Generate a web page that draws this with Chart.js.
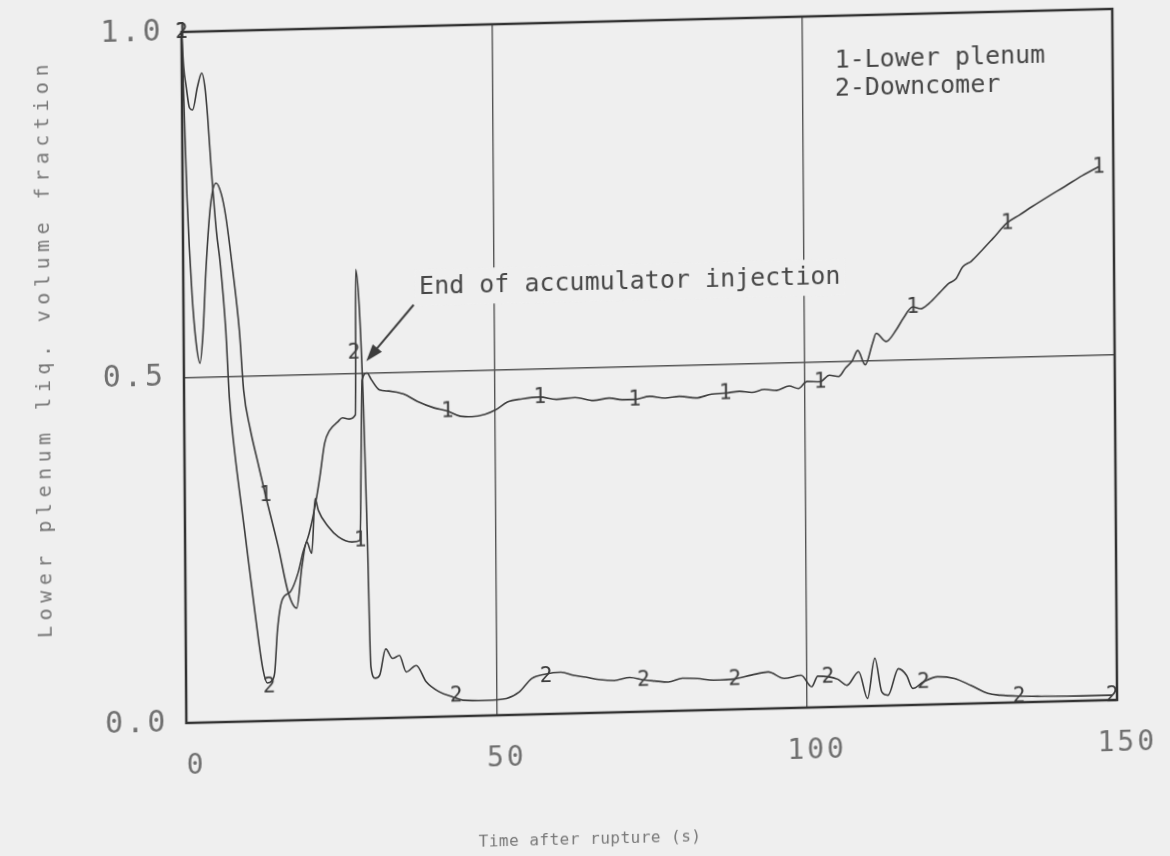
<!DOCTYPE html>
<html>
<head>
<meta charset="utf-8">
<script src="https://cdn.jsdelivr.net/npm/chart.js@4.4.1/dist/chart.umd.min.js"></script>
<style>
    html, body { margin: 0; padding: 0; background: #efefef; overflow: hidden; }
    #wrap { width: 1170px; height: 856px; overflow: hidden; }
    /* the scanned sheet is fed a little askew */
    #box { width: 1170px; height: 880px; transform-origin: 184px 378px; transform: skew(0.4deg, -1.42deg); }
</style>
</head>
<body>
<div id="wrap"><div id="box"><canvas id="chart"></canvas></div></div>
<script>
var xTicks = [0, 50, 100, 150];
var yTicks = [0, 0.5, 1.0];

// 1 - Lower plenum
var lpTime = [0, 0.3, 0.7, 1.4, 2.0, 2.6, 3.1, 3.7, 4.5, 5.4,
    6.2, 6.9, 7.9, 9.0, 9.6, 10.6, 11.8, 13.0, 15.0, 16.6,
    17.9, 18.8, 19.6, 20.4, 21.0, 21.5, 23.1, 24.7, 26.9, 28.2,
    28.5, 28.7, 29.5, 30.2, 31.5, 33.0, 35.4, 37.6, 40.3, 42.4,
    44.5, 46.4, 48.5, 50.2, 52.1, 54.5, 57.3, 60.0, 63.0, 66.0,
    68.5, 70.6, 72.6, 75.0, 77.5, 79.8, 82.5, 85.0, 87.2, 89.5,
    91.5, 93.5, 95.5, 97.5, 99.0, 100.4, 102.5, 104.0, 105.5, 106.6,
    107.7, 108.6, 109.8, 111.0, 111.6, 113.2, 114.8, 116.0, 117.5, 118.8,
    120.2, 121.8, 123.4, 124.5, 125.6, 127.0, 128.8, 130.5, 132.8, 134.8,
    136.9, 139.5, 142.2, 145.0, 147.6];
var lpFrac = [1.0, 0.90, 0.76, 0.62, 0.55, 0.52, 0.56, 0.66, 0.75, 0.78,
    0.765, 0.733, 0.66, 0.564, 0.480, 0.424, 0.375, 0.327, 0.252, 0.184,
    0.162, 0.222, 0.258, 0.241, 0.320, 0.303, 0.279, 0.264, 0.256, 0.258,
    0.40, 0.49, 0.50, 0.49, 0.475, 0.473, 0.468, 0.457, 0.447, 0.442,
    0.434, 0.433, 0.436, 0.442, 0.453, 0.457, 0.459, 0.455, 0.457, 0.452,
    0.455, 0.452, 0.452, 0.456, 0.453, 0.455, 0.452, 0.457, 0.458, 0.460,
    0.458, 0.462, 0.460, 0.466, 0.462, 0.472, 0.471, 0.480, 0.478, 0.490,
    0.500, 0.515, 0.494, 0.525, 0.539, 0.527, 0.543, 0.560, 0.576, 0.573,
    0.581, 0.595, 0.609, 0.615, 0.632, 0.640, 0.656, 0.672, 0.694, 0.705,
    0.717, 0.731, 0.745, 0.760, 0.772];

// 2 - Downcomer
var dcTime = [0, 0.3, 0.7, 1.2, 1.7, 2.5, 3.2, 3.7, 4.1, 4.6,
    5.4, 6.0, 6.8, 7.3, 8.0, 9.6, 11.2, 12.4, 13.1, 13.8,
    14.3, 14.8, 15.6, 16.9, 18.2, 19.0, 20.0, 21.1, 21.8, 22.6,
    23.4, 24.7, 25.5, 26.6, 27.6, 27.8, 28.3, 28.9, 29.4, 29.8,
    30.5, 31.2, 32.2, 33.3, 34.4, 35.5, 37.1, 38.7, 40.8, 43.0,
    44.6, 48.3, 51.6, 53.7, 55.7, 58.0, 60.4, 62.5, 64.4, 66.5,
    69.0, 71.5, 73.7, 75.5, 77.7, 80.0, 82.4, 85.0, 88.4, 91.1,
    93.8, 96.4, 99.1, 100.8, 101.8, 103.4, 105.0, 106.5, 108.4, 109.8,
    111.0, 112.1, 113.1, 114.8, 116.1, 117.1, 118.8, 121.1, 123.8, 126.5,
    129.2, 131.2, 134.2, 137.8, 144.5, 149.2];
var dcFrac = [1.0, 0.95, 0.92, 0.89, 0.887, 0.92, 0.94, 0.92, 0.878, 0.806,
    0.71, 0.662, 0.566, 0.469, 0.398, 0.277, 0.156, 0.075, 0.055, 0.058,
    0.07, 0.132, 0.175, 0.186, 0.214, 0.243, 0.27, 0.315, 0.352, 0.400,
    0.418, 0.430, 0.436, 0.434, 0.440, 0.65, 0.60, 0.45, 0.25, 0.075,
    0.058, 0.062, 0.100, 0.086, 0.090, 0.066, 0.075, 0.051, 0.036, 0.028,
    0.023, 0.022, 0.024, 0.033, 0.052, 0.058, 0.060, 0.055, 0.052, 0.048,
    0.046, 0.050, 0.046, 0.044, 0.042, 0.047, 0.046, 0.043, 0.044, 0.049,
    0.053, 0.043, 0.047, 0.030, 0.045, 0.044, 0.040, 0.031, 0.050, 0.011,
    0.069, 0.020, 0.015, 0.053, 0.043, 0.024, 0.033, 0.040, 0.037, 0.026,
    0.014, 0.011, 0.009, 0.008, 0.007, 0.007];

// curve symbols "1" and "2" plotted along the traces
var lpMarkTime = [0, 13.0, 28.2, 42.4, 57.3, 72.6, 87.2, 102.5, 117.5, 132.8, 147.6];
var lpMarkFrac = [1.0, 0.327, 0.258, 0.442, 0.459, 0.452, 0.458, 0.471, 0.576, 0.694, 0.772];
var dcMarkTime = [0, 13.4, 27.4, 43.5, 58.0, 73.7, 88.4, 103.4, 118.8, 134.2, 149.2];
var dcMarkFrac = [1.0, 0.05, 0.53, 0.03, 0.055, 0.046, 0.044, 0.044, 0.033, 0.009, 0.007];

var legendLines = ['1-Lower plenum', '2-Downcomer'];
var noteText = 'End of accumulator injection';
var xTitle = 'Time after rupture (s)';
var yTitle = 'Lower plenum liq. volume fraction';

var paper = '#efefef';
var ink = '#3c3c3c';
var mono = '"DejaVu Sans Mono", "Liberation Mono", monospace';

function pts(xs, ys) {
    var out = [];
    for (var i = 0; i < xs.length; i++) {
        out.push({x: xs[i], y: ys[i]});
    }
    return out;
}

function glyph(ch) {
    var c = document.createElement('canvas');
    c.width = 16;
    c.height = 24;
    var g = c.getContext('2d');
    g.font = '21px ' + mono;
    g.fillStyle = ink;
    g.textAlign = 'center';
    g.textBaseline = 'middle';
    g.fillText(ch, 8, 13);
    return c;
}

var notes = {
    id: 'notes',
    beforeDraw: function (chart) {
        chart.ctx.letterSpacing = '3px';
    },
    beforeDatasetsDraw: function (chart) {
        chart.ctx.letterSpacing = '0px';
    },
    afterDatasetsDraw: function (chart) {
        var ctx = chart.ctx;
        var a = chart.chartArea;
        var x = chart.scales.x, y = chart.scales.y;
        ctx.save();

        ctx.strokeStyle = '#333';
        ctx.lineWidth = 2.5;
        ctx.strokeRect(a.left, a.top, a.right - a.left, a.bottom - a.top);

        // label + arrow
        ctx.font = '25px ' + mono;
        ctx.textBaseline = 'middle';
        ctx.textAlign = 'left';
        var tx = x.getPixelForValue(38.0), ty = y.getPixelForValue(0.622);
        var tw = ctx.measureText(noteText).width;
        ctx.fillStyle = paper;
        ctx.fillRect(tx - 4, ty - 18, tw + 8, 36);
        ctx.fillStyle = '#474747';
        ctx.fillText(noteText, tx, ty);

        var x0 = x.getPixelForValue(37.1), y0 = y.getPixelForValue(0.597);
        var x1 = x.getPixelForValue(29.4), y1 = y.getPixelForValue(0.517);
        var ang = Math.atan2(y1 - y0, x1 - x0);
        var c = Math.cos(ang), s = Math.sin(ang);
        ctx.strokeStyle = ink;
        ctx.lineWidth = 2;
        ctx.beginPath();
        ctx.moveTo(x0, y0);
        ctx.lineTo(x1 - 12 * c, y1 - 12 * s);
        ctx.stroke();
        ctx.beginPath();
        ctx.moveTo(x1, y1);
        ctx.lineTo(x1 - 17 * c + 6 * s, y1 - 17 * s - 6 * c);
        ctx.lineTo(x1 - 17 * c - 6 * s, y1 - 17 * s + 6 * c);
        ctx.closePath();
        ctx.fillStyle = ink;
        ctx.fill();

        // key
        ctx.fillStyle = '#474747';
        ctx.fillText(legendLines[0], x.getPixelForValue(105.2), y.getPixelForValue(0.934));
        ctx.fillText(legendLines[1], x.getPixelForValue(105.2), y.getPixelForValue(0.893));

        // axis titles
        ctx.fillStyle = '#777';
        ctx.textAlign = 'center';
        ctx.font = '16px ' + mono;
        ctx.letterSpacing = '0.5px';
        ctx.fillText(xTitle, 587, 850);
        ctx.translate(45, 345);
        ctx.rotate(-Math.PI / 2);
        ctx.font = '20px ' + mono;
        ctx.letterSpacing = '5.5px';
        ctx.fillText(yTitle, 0, 0);
        ctx.restore();
    }
};

var chart = new Chart(document.getElementById('chart').getContext('2d'), {
    type: 'scatter',
    data: {
        datasets: [{
            label: legendLines[0],
            data: pts(lpTime, lpFrac),
            showLine: true,
            borderColor: ink,
            borderWidth: 1.6,
            pointRadius: 0,
            cubicInterpolationMode: 'monotone'
        }, {
            label: legendLines[1],
            data: pts(dcTime, dcFrac),
            showLine: true,
            borderColor: ink,
            borderWidth: 1.6,
            pointRadius: 0,
            cubicInterpolationMode: 'monotone'
        }, {
            label: '1',
            data: pts(lpMarkTime, lpMarkFrac),
            showLine: false,
            pointStyle: glyph('1'),
            clip: false
        }, {
            label: '2',
            data: pts(dcMarkTime, dcMarkFrac),
            showLine: false,
            pointStyle: glyph('2'),
            clip: false
        }]
    },
    options: {
        responsive: true,
        maintainAspectRatio: false,
        animation: false,
        layout: {
            padding: {top: 32, right: 55, left: 0, bottom: 0}
        },
        plugins: {
            legend: {display: false},
            tooltip: {enabled: false}
        },
        scales: {
            x: {
                type: 'linear',
                min: 0,
                max: 150,
                afterBuildTicks: function (s) {
                    s.ticks = xTicks.map(function (v) { return {value: v}; });
                },
                afterFit: function (s) { s.height = 157; },
                border: {display: false},
                grid: {color: '#555', lineWidth: 1.4, drawTicks: false},
                ticks: {
                    padding: 27,
                    labelOffset: 10,
                    color: '#707070',
                    maxRotation: 0,
                    font: {family: mono, size: 28}
                }
            },
            y: {
                type: 'linear',
                min: 0,
                max: 1,
                afterBuildTicks: function (s) {
                    s.ticks = yTicks.map(function (v) { return {value: v}; });
                },
                afterFit: function (s) {
                    s.width = 184;
                    s.paddingTop = 0;
                    s.paddingBottom = 0;
                },
                border: {display: false},
                grid: {color: '#555', lineWidth: 1.4, drawTicks: false},
                ticks: {
                    padding: 18,
                    color: '#707070',
                    font: {family: mono, size: 30},
                    callback: function (v) { return v.toFixed(1); }
                }
            }
        }
    },
    plugins: [notes]
});
</script>
</body>
</html>
